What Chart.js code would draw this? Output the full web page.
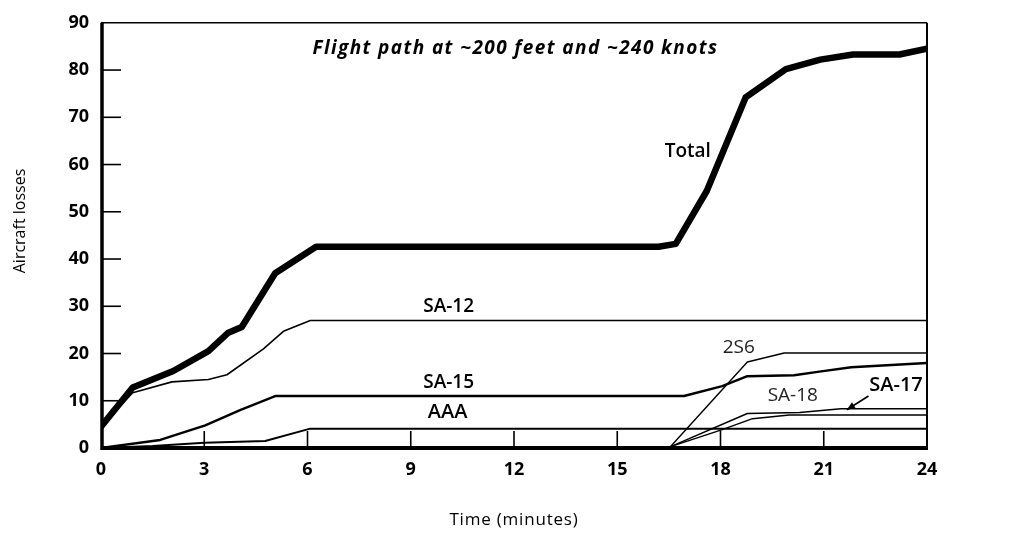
<!DOCTYPE html>
<html>
<head>
<meta charset="utf-8">
<script src="https://cdn.jsdelivr.net/npm/chart.js@4"></script>
<style>
  html, body { margin: 0; padding: 0; background: #fff; }
</style>
</head>
<body>
<canvas id="grafico" width="1013" height="544"></canvas>
<script>
// dados (tempo em minutos, perdas)
let seriesNames = ["Total", "SA-12", "SA-15", "AAA", "2S6", "SA-18", "SA-17"];

let totalTime   = [0, 0.92, 2.1, 3.12, 3.7, 4.09, 5.06, 6.25, 16.2, 16.7, 17.6, 18.73, 19.9, 20.9, 21.85, 23.2, 24];
let totalLosses = [4.5, 12.8, 16.3, 20.5, 24.4, 25.6, 37, 42.6, 42.6, 43.2, 54.4, 74.2, 80.2, 82.2, 83.3, 83.3, 84.5];

let sa12Time   = [0, 0.92, 2.06, 3.12, 3.66, 4.72, 5.3, 6.08, 24];
let sa12Losses = [4.5, 11.7, 14.0, 14.5, 15.5, 21, 24.7, 27, 27];

let sa15Time   = [0, 1.72, 3.03, 4.04, 5.06, 16.94, 18.05, 18.78, 20.14, 20.82, 21.8, 24];
let sa15Losses = [0, 1.7, 4.8, 8, 11, 11, 13.1, 15.2, 15.4, 16.1, 17.1, 18];

let aaaTime   = [0, 1.5, 3, 4.77, 6.08, 24];
let aaaLosses = [0, 0.4, 1.1, 1.5, 4.1, 4.1];

let s2s6Time   = [0, 6, 16.55, 18.78, 19.85, 24];
let s2s6Losses = [0, 0.3, 0.3, 18.2, 20.1, 20.1];

let sa18Time   = [0, 6, 16.55, 18.05, 18.93, 20.0, 24];
let sa18Losses = [0, 0.3, 0.3, 3.9, 6.2, 7.0, 7.0];

let sa17Time   = [0, 6, 16.55, 18.78, 20.3, 21.5, 24];
let sa17Losses = [0, 0.3, 0.3, 7.3, 7.5, 8.3, 8.3];

let xTicks = [0, 3, 6, 9, 12, 15, 18, 21, 24];
let yTicks = [0, 10, 20, 30, 40, 50, 60, 70, 80, 90];

let chartTitle = "Flight path at ~200 feet and ~240 knots";
let xTitle = "Time (minutes)";
let yTitle = "Aircraft losses";

// montar pontos
function pontos(tempos, valores) {
  return tempos.map((t, i) => ({ x: t, y: valores[i] }));
}

let seriesData = [
  pontos(totalTime, totalLosses),
  pontos(sa12Time, sa12Losses),
  pontos(sa15Time, sa15Losses),
  pontos(aaaTime, aaaLosses),
  pontos(s2s6Time, s2s6Losses),
  pontos(sa18Time, sa18Losses),
  pontos(sa17Time, sa17Losses)
];

// estilos
let larguras = [6.5, 1.6, 2.4, 2, 1.4, 1.4, 1.4];

// rótulos dentro do gráfico (posição em unidades dos eixos)
let rotulos = [
  { text: "Total", x: 17.05, y: 62.8, font: "600 19px 'Open Sans'" },
  { text: "SA-12", x: 10.1, y: 29.9, font: "600 19px 'Open Sans'" },
  { text: "SA-15", x: 10.1, y: 13.9, font: "600 19px 'Open Sans'" },
  { text: "AAA", x: 10.07, y: 7.6, font: "600 20px 'Open Sans'" },
  { text: "2S6", x: 18.53, y: 21.3, font: "400 19px 'Open Sans'" },
  { text: "SA-18", x: 20.1, y: 11.0, font: "400 19px 'Open Sans'" },
  { text: "SA-17", x: 23.1, y: 13.3, font: "600 20px 'Open Sans'" }
];

// moldura, ticks internos e textos
const moldura = {
  id: "moldura",
  afterDatasetsDraw(chart) {
    let ctx = chart.ctx;
    let a = chart.chartArea;
    let x = chart.scales.x;
    let y = chart.scales.y;

    function linha(x1, y1, x2, y2, w) {
      ctx.lineWidth = w;
      ctx.beginPath();
      ctx.moveTo(x1, y1);
      ctx.lineTo(x2, y2);
      ctx.stroke();
    }

    ctx.save();
    ctx.strokeStyle = "#000";
    ctx.fillStyle = "#000";

    yTicks.slice(1, -1).forEach(v => {
      let py = y.getPixelForValue(v);
      linha(a.left, py, a.left + 20, py, 1.6);
    });
    xTicks.slice(1, -1).forEach(v => {
      let px = x.getPixelForValue(v);
      linha(px, a.bottom, px, a.bottom - 17, 1.6);
    });

    linha(a.left, a.top, a.right, a.top, 1.5);
    linha(a.right, a.top, a.right, a.bottom, 2);
    linha(a.left + 1, a.top, a.left + 1, a.bottom + 2, 3.5);
    linha(a.left, a.bottom, a.right + 1, a.bottom, 4);

    ctx.textAlign = "center";
    ctx.textBaseline = "middle";

    ctx.letterSpacing = "1.4px";
    ctx.font = "italic bold 19px 'Open Sans'";
    ctx.fillText(chartTitle, x.getPixelForValue(12.04), y.getPixelForValue(84.6));
    ctx.letterSpacing = "0px";

    rotulos.forEach(r => {
      ctx.font = r.font;
      ctx.fillStyle = r.font.startsWith("400") ? "#222" : "#000";
      ctx.fillText(r.text, x.getPixelForValue(r.x), y.getPixelForValue(r.y));
    });

    // seta SA-17
    let x1 = x.getPixelForValue(22.3), y1 = y.getPixelForValue(11.0);
    let x2 = x.getPixelForValue(21.67), y2 = y.getPixelForValue(8.1);
    linha(x1, y1, x2, y2, 1.6);
    let ang = Math.atan2(y2 - y1, x2 - x1);
    ctx.beginPath();
    ctx.moveTo(x2, y2);
    ctx.lineTo(x2 - 9 * Math.cos(ang - 0.4), y2 - 9 * Math.sin(ang - 0.4));
    ctx.lineTo(x2 - 9 * Math.cos(ang + 0.4), y2 - 9 * Math.sin(ang + 0.4));
    ctx.closePath();
    ctx.fillStyle = "#000";
    ctx.fill();

    // títulos dos eixos
    ctx.font = "17px 'Open Sans'";
    ctx.letterSpacing = "0.8px";
    ctx.fillText(xTitle, (a.left + a.right) / 2, 520);
    ctx.letterSpacing = "0px";

    ctx.save();
    ctx.translate(20, 221);
    ctx.rotate(-Math.PI / 2);
    ctx.font = "16px 'Open Sans'";
    ctx.fillText(yTitle, 0, 0);
    ctx.restore();

    ctx.restore();
  }
};

let ctx = document.getElementById("grafico").getContext("2d");

let chart = new Chart(ctx, {
  type: "line",
  data: {
    datasets: seriesData.map((d, i) => ({
      label: seriesNames[i],
      data: d,
      borderColor: "#000",
      borderWidth: larguras[i],
      pointRadius: 0,
      tension: 0,
      fill: false,
      borderJoinStyle: "round",
      borderCapStyle: "round"
    }))
  },
  options: {
    responsive: false,
    animation: false,
    layout: { padding: { top: 21, right: 86, left: 0, bottom: 0 } },
    plugins: {
      legend: { display: false },
      tooltip: { enabled: false }
    },
    scales: {
      x: {
        type: "linear",
        min: 0,
        max: 24,
        afterBuildTicks: s => { s.ticks = xTicks.map(v => ({ value: v })); },
        afterFit: s => { s.height = 96; },
        grid: { display: false, drawTicks: false },
        border: { display: false },
        ticks: {
          padding: 11,
          color: "#000",
          font: { family: "'Open Sans'", size: 18, weight: "bold" }
        }
      },
      y: {
        min: 0,
        max: 90,
        afterBuildTicks: s => { s.ticks = yTicks.map(v => ({ value: v })); },
        afterFit: s => { s.width = 101; },
        grid: { display: false, drawTicks: false },
        border: { display: false },
        ticks: {
          padding: 12,
          color: "#000",
          font: { family: "'Open Sans'", size: 18, weight: "bold" }
        }
      }
    }
  },
  plugins: [moldura]
});
</script>
</body>
</html>
